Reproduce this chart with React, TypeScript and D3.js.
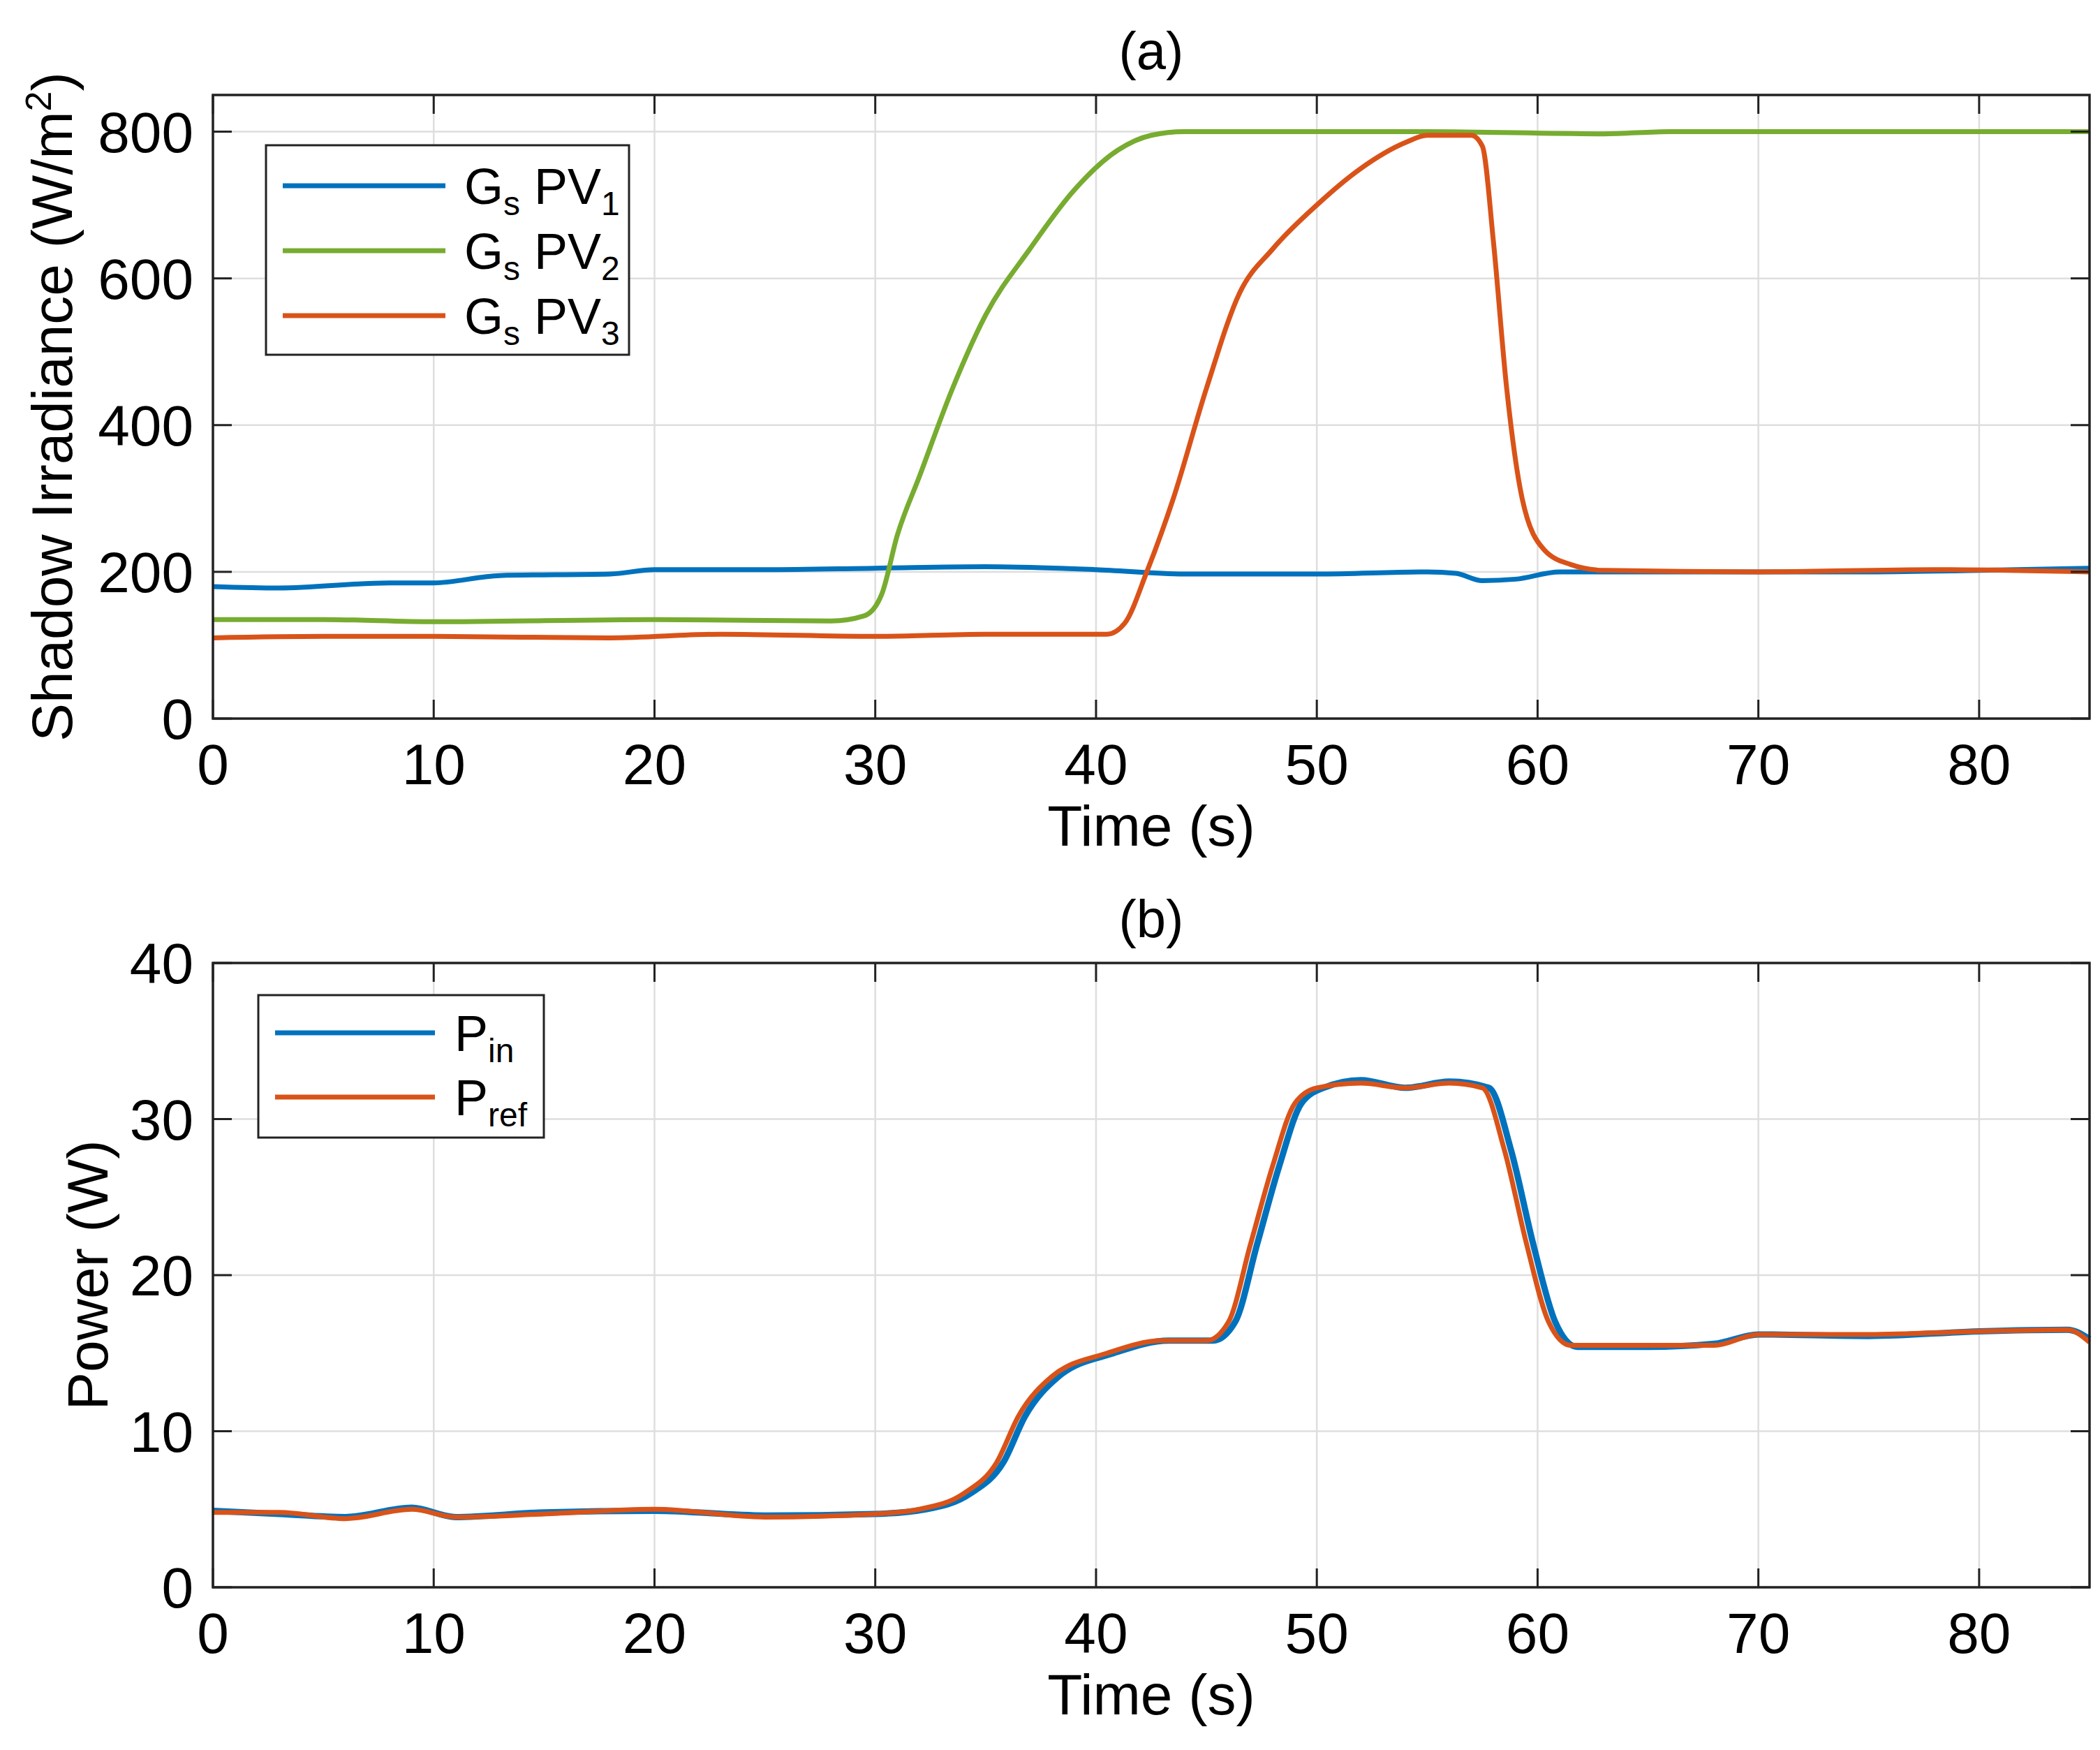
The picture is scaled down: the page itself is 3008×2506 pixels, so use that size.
import React from "react";
import * as d3 from "d3";

const pv1T = [0, 3, 8, 10, 13, 18, 20, 25, 30, 35, 40, 44, 50, 55, 56.3, 57.5, 59, 61, 70, 75, 80, 85];
const pv1V = [180, 178, 185, 185, 195, 197, 203, 203, 205, 207, 203, 197, 197, 200, 198, 188, 190, 200, 200, 200, 202, 205];
const pv2T = [0, 5, 10, 20, 28, 29.5, 30.3, 31, 32, 33.5, 35, 37, 39, 41, 42.5, 44, 55, 63, 66, 85];
const pv2V = [135, 135, 132, 135, 133, 140, 170, 250, 330, 450, 550, 640, 720, 775, 795, 800, 800, 797, 800, 800];
const pv3T = [0, 5, 10, 18, 23, 30, 35, 40.5, 41.3, 42.3, 43.5, 45, 46.5, 48, 50, 52, 54, 55, 57, 57.5, 58, 58.6, 59.3, 60.3, 61.5, 63, 70, 78, 85];
const pv3V = [110, 112, 112, 110, 115, 112, 115, 115, 130, 200, 300, 450, 580, 640, 700, 750, 785, 795, 795, 780, 650, 450, 300, 230, 210, 202, 200, 203, 200];

const prefT = [0, 3, 6, 9, 11, 15, 20, 25, 30, 32, 34, 35.5, 36.5, 38, 40.5, 43, 45, 46, 47, 48, 49, 50, 52, 54, 56, 57.5, 58.5, 59.5, 60.5, 61.5, 65, 68, 70, 75, 80, 84, 85];
const prefV = [4.8, 4.8, 4.4, 5, 4.5, 4.7, 5, 4.5, 4.7, 5, 6, 8, 11, 13.5, 15, 15.8, 15.8, 17, 22, 27, 31, 32, 32.3, 32, 32.3, 32, 28, 22, 17, 15.5, 15.5, 15.5, 16.2, 16.2, 16.4, 16.5, 15.7];
const pinT = [0, 3, 6, 9, 11, 15, 20, 25, 30, 32.3, 34.3, 35.8, 36.8, 38.3, 40.8, 43.3, 45.3, 46.3, 47.3, 48.3, 49.3, 50.3, 52, 54, 56, 57.8, 58.8, 59.8, 60.8, 61.8, 65, 68, 70, 75, 80, 84, 85];
const pinV = [4.9, 4.7, 4.5, 5.1, 4.5, 4.8, 4.9, 4.6, 4.7, 5, 6, 8, 11, 13.5, 15, 15.8, 15.8, 17, 22, 27, 31, 32, 32.5, 32, 32.4, 32, 28, 22, 17, 15.4, 15.4, 15.6, 16.2, 16.1, 16.4, 16.5, 15.9];

const xTicks = [0, 10, 20, 30, 40, 50, 60, 70, 80];
const yTicksA = [0, 200, 400, 600, 800];
const yTicksB = [0, 10, 20, 30, 40];

const BLUE = "#0072BD", GREEN = "#77AC30", ORANGE = "#D95319";
const FONT = "Liberation Sans, Arial, sans-serif";
const NARROW = "Liberation Sans Narrow, Liberation Sans, Arial, sans-serif";
const L = 297, R = 2985;

function Panel({ top, bottom, yMax, yTicks, title, ylabel, ylabelX, series, legend }: any) {
  const x = d3.scaleLinear().domain([0, 85]).range([L, R]);
  const y = d3.scaleLinear().domain([0, yMax]).range([bottom, top]);
  const line = d3.line<[number, number]>().x(d => x(d[0])).y(d => y(d[1])).curve(d3.curveMonotoneX);
  return (
    <g fontFamily={FONT}>
      {xTicks.map(t => <line key={"gx" + t} x1={x(t)} x2={x(t)} y1={top} y2={bottom} stroke="#dedede" strokeWidth={2.5} />)}
      {yTicks.map((t: number) => <line key={"gy" + t} x1={L} x2={R} y1={y(t)} y2={y(t)} stroke="#dedede" strokeWidth={2.5} />)}
      {series.map((s: any, i: number) => (
        <path key={i} d={line(s.t.map((tt: number, j: number) => [tt, s.v[j]]))!} fill="none" stroke={s.c} strokeWidth={s.w} />
      ))}
      <rect x={L} y={top} width={R - L} height={bottom - top} fill="none" stroke="#222" strokeWidth={3.5} />
      {xTicks.map(t => (
        <g key={"tx" + t}>
          <line x1={x(t)} x2={x(t)} y1={bottom} y2={bottom - 27} stroke="#222" strokeWidth={3} />
          <line x1={x(t)} x2={x(t)} y1={top} y2={top + 27} stroke="#222" strokeWidth={3} />
          <text x={x(t)} y={bottom + 94} fontSize={82} fontFamily={NARROW} textAnchor="middle">{t}</text>
        </g>
      ))}
      {yTicks.map((t: number) => (
        <g key={"ty" + t}>
          <line x1={L} x2={L + 27} y1={y(t)} y2={y(t)} stroke="#222" strokeWidth={3} />
          <line x1={R} x2={R - 27} y1={y(t)} y2={y(t)} stroke="#222" strokeWidth={3} />
          <text x={L - 28} y={y(t) + 29} fontSize={82} fontFamily={NARROW} textAnchor="end">{t}</text>
        </g>
      ))}
      <text x={(L + R) / 2} y={bottom + 182} fontSize={82} textAnchor="middle">Time (s)</text>
      <text x={(L + R) / 2} y={top - 37} fontSize={76} textAnchor="middle">{title}</text>
      <text transform={`translate(${ylabelX},${(top + bottom) / 2}) rotate(-90)`} fontSize={82} textAnchor="middle">{ylabel}</text>
      <rect x={legend.x} y={legend.y} width={legend.w} height={legend.h} fill="#fff" stroke="#222" strokeWidth={3} />
      {legend.items.map((it: any, i: number) => (
        <g key={i}>
          <line x1={legend.x + 24} x2={legend.x + 24 + legend.lw} y1={legend.y + legend.r0 + i * legend.dr} y2={legend.y + legend.r0 + i * legend.dr} stroke={it.c} strokeWidth={7} />
          <text x={legend.x + legend.tx} y={legend.y + legend.r0 + i * legend.dr + 26} fontSize={72} fontFamily={NARROW}>{it.label}</text>
        </g>
      ))}
    </g>
  );
}

const gs = (n: string) => (<><tspan>G</tspan><tspan fontSize={48} dy={16}>s</tspan><tspan dy={-16}> PV</tspan><tspan fontSize={48} dy={16}>{n}</tspan></>);

export default function App() {
  return (
    <svg width={3008} height={2506} style={{ display: "block", background: "#fff" }}>
      <Panel top={128} bottom={1021} yMax={850} yTicks={yTicksA} title="(a)" ylabelX={95}
        ylabel={<><tspan>Shadow Irradiance (W/m</tspan><tspan fontSize={52} dy={-30}>2</tspan><tspan dy={30}>)</tspan></>}
        series={[{ t: pv1T, v: pv1V, c: BLUE, w: 7 }, { t: pv2T, v: pv2V, c: GREEN, w: 7 }, { t: pv3T, v: pv3V, c: ORANGE, w: 7 }]}
        legend={{ x: 373, y: 200, w: 520, h: 300, r0: 58, dr: 93, lw: 233, tx: 284, items: [{ c: BLUE, label: gs("1") }, { c: GREEN, label: gs("2") }, { c: ORANGE, label: gs("3") }] }} />
      <Panel top={1371} bottom={2265} yMax={40} yTicks={yTicksB} title="(b)" ylabelX={146}
        ylabel="Power (W)"
        series={[{ t: pinT, v: pinV, c: BLUE, w: 9 }, { t: prefT, v: prefV, c: ORANGE, w: 7 }]}
        legend={{ x: 362, y: 1417, w: 409, h: 204, r0: 54, dr: 92, lw: 229, tx: 281, items: [{ c: BLUE, label: <><tspan>P</tspan><tspan fontSize={48} dy={16}>in</tspan></> }, { c: ORANGE, label: <><tspan>P</tspan><tspan fontSize={48} dy={16}>ref</tspan></> }] }} />
    </svg>
  );
}
